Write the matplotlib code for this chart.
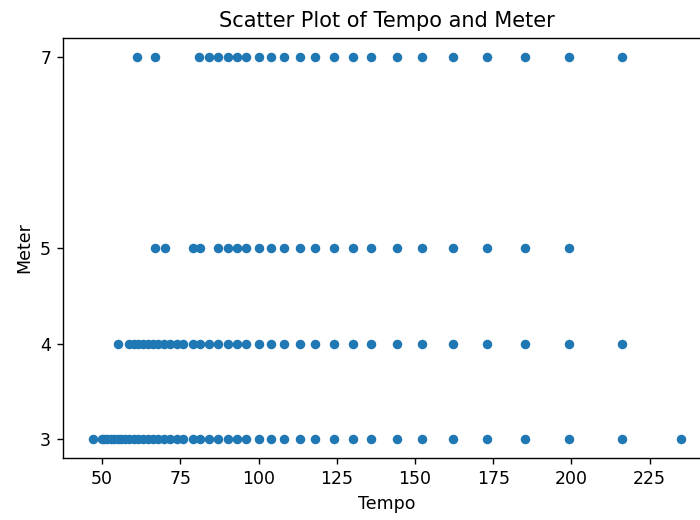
import numpy as np
import matplotlib
matplotlib.use('Agg')
import matplotlib.pyplot as plt

# tempo values, one list per meter row
tempo_3 = [47.0, 50.0, 50.7, 51.7, 52.7, 53.8, 55.0, 56.2, 57.4, 58.7, 60.1, 61.5,
           63.0, 64.6, 66.3, 68.0, 69.8, 71.8, 73.8, 76.0, 79.1, 81.2, 84.1, 87.1,
           90.2, 93.1, 96.1, 100.1, 104.0, 108.1, 113.1, 118.2, 124.0, 130.1, 136.0,
           144.1, 152.1, 162.1, 173.1, 185.1, 199.1, 216.2, 235.1]
tempo_4 = [55.1, 58.7, 60.1, 61.5, 63.0, 64.6, 66.3, 68.0, 69.8, 71.8, 73.8, 76.0,
           79.1, 81.2, 84.1, 87.1, 90.2, 93.1, 96.1, 100.1, 104.0, 108.1, 113.1,
           118.2, 124.0, 130.1, 136.0, 144.1, 152.1, 162.1, 173.1, 185.1, 199.1, 216.2]
tempo_5 = [67.0, 70.0, 79.1, 81.2, 87.1, 90.2, 93.1, 96.1, 100.1, 104.0, 108.1,
           113.1, 118.2, 124.0, 130.1, 136.0, 144.1, 152.1, 162.1, 173.1, 185.1, 199.1]
tempo_7 = [61.0, 67.0, 80.9, 84.1, 87.1, 90.2, 93.1, 96.1, 100.1, 104.0, 108.1,
           113.1, 118.2, 124.0, 130.1, 136.0, 144.1, 152.1, 162.1, 173.1, 185.1,
           199.1, 216.2]
meters = [3, 4, 5, 7]

tempo = tempo_3 + tempo_4 + tempo_5 + tempo_7
meter = [3] * len(tempo_3) + [4] * len(tempo_4) + [5] * len(tempo_5) + [7] * len(tempo_7)

fig = plt.figure(figsize=(5.6, 4.16), dpi=125)
ax = fig.add_axes([0.0904, 0.1187, 0.9249, 0.809])
ax.scatter(tempo, meter, s=20, color='#1f77b4')
ax.set_yticks(meters)
ax.set_title('Scatter Plot of Tempo and Meter')
ax.set_xlabel('Tempo')
ax.set_ylabel('Meter')

fig.savefig('out.png', dpi=125)
